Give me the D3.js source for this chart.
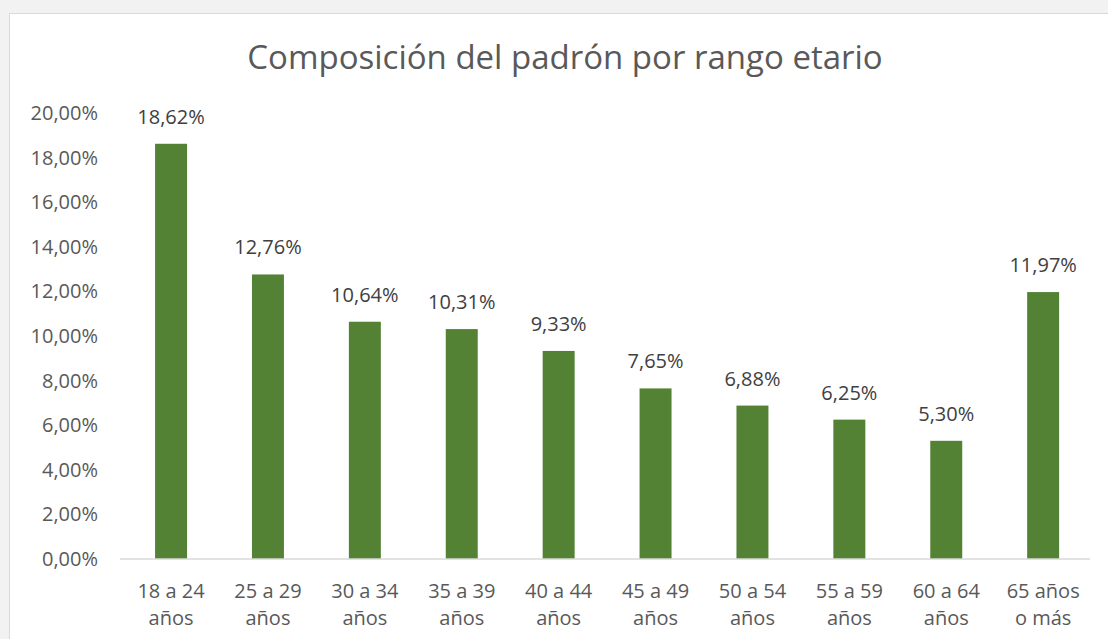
<!DOCTYPE html>
<html>
<head>
<meta charset="utf-8">
<script src="https://cdn.jsdelivr.net/npm/d3@7"></script>
<style>
  body { margin: 0; background: #f2f2f2; }
  svg { display: block; }
</style>
</head>
<body>
<div id="chart"></div>
<script>
// categorias (dos lineas cada una) y porcentajes
var categories = ["18 a 24|años", "25 a 29|años", "30 a 34|años", "35 a 39|años", "40 a 44|años",
                  "45 a 49|años", "50 a 54|años", "55 a 59|años", "60 a 64|años", "65 años|o más"];
var values = [18.62, 12.76, 10.64, 10.31, 9.33, 7.65, 6.88, 6.25, 5.30, 11.97];
var yTicks = [0, 2, 4, 6, 8, 10, 12, 14, 16, 18, 20];
var title = "Composición del padrón por rango etario";

var width = 1108, height = 639;
var font = "'Open Sans', sans-serif";
var textColor = "#595959";
var fs = 20;

var svg = d3.select("#chart").append("svg")
  .attr("width", width).attr("height", height);

// caja blanca del grafico
svg.append("rect")
  .attr("x", 9.5).attr("y", 13.5)
  .attr("width", width + 20).attr("height", height + 20)
  .attr("fill", "#fff").attr("stroke", "#d9d9d9");

var x = d3.scaleBand()
  .domain(categories)
  .range([122.6, 1091.6])
  .paddingInner(0.67)
  .paddingOuter(0.335);

var y = d3.scaleLinear().domain([0, 20]).range([559, 113]);

svg.append("text")
  .attr("x", 565).attr("y", 69)
  .attr("text-anchor", "middle")
  .attr("font-family", font).attr("font-size", 33)
  .attr("fill", textColor)
  .text(title);

// eje y (solo etiquetas)
var yAxis = svg.append("g")
  .attr("transform", "translate(98,0)")
  .call(d3.axisLeft(y).tickValues(yTicks).tickSize(0).tickPadding(0)
    .tickFormat(function(d) { return d3.format(".2f")(d).replace(".", ",") + "%"; }));
yAxis.select(".domain").remove();
yAxis.selectAll("text")
  .attr("font-family", font).attr("font-size", fs).attr("fill", textColor);

// barras
svg.selectAll("rect.bar")
  .data(values)
  .enter().append("rect")
  .attr("class", "bar")
  .attr("x", function(d, i) { return x(categories[i]); })
  .attr("y", function(d) { return y(d); })
  .attr("width", x.bandwidth())
  .attr("height", function(d) { return y(0) - y(d); })
  .attr("fill", "#548235");

// etiquetas de datos
svg.selectAll("text.lbl")
  .data(values)
  .enter().append("text")
  .attr("class", "lbl")
  .attr("x", function(d, i) { return x(categories[i]) + x.bandwidth() / 2; })
  .attr("y", function(d) { return y(d) - 20; })
  .attr("text-anchor", "middle")
  .attr("font-family", font).attr("font-size", fs)
  .attr("fill", "#404040")
  .text(function(d) { return d3.format(".2f")(d).replace(".", ",") + "%"; });

// eje x
var xAxis = svg.append("g")
  .attr("transform", "translate(0," + y(0) + ")")
  .call(d3.axisBottom(x).tickSize(0).tickPadding(0).tickFormat(""));
xAxis.select(".domain").attr("stroke", "#d9d9d9").attr("stroke-width", 1.5)
  .attr("d", "M120,0H1090");
xAxis.selectAll(".tick text").remove();
xAxis.selectAll(".tick").each(function(d) {
  var t = d3.select(this).append("text")
    .attr("text-anchor", "middle")
    .attr("font-family", font).attr("font-size", fs)
    .attr("fill", textColor);
  d.split("|").forEach(function(line, k) {
    t.append("tspan").attr("x", 0).attr("y", 39 + k * 27).text(line);
  });
});
</script>
</body>
</html>
